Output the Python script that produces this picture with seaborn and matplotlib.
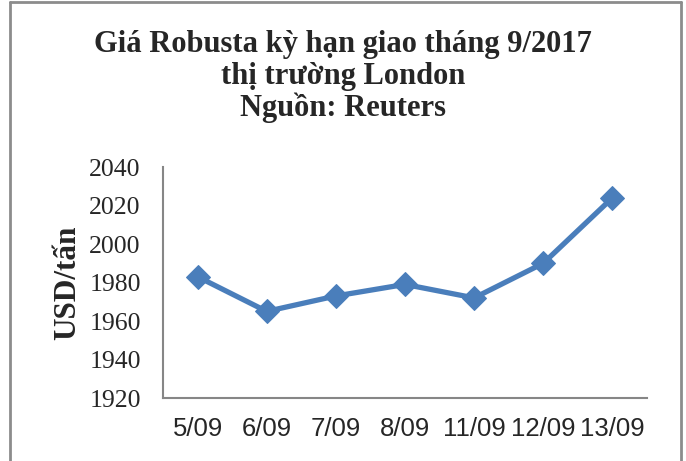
import matplotlib.pyplot as plt
from matplotlib.lines import Line2D
import seaborn as sns
import pandas as pd

# data
dates = ["5/09", "6/09", "7/09", "8/09", "11/09", "12/09", "13/09"]
prices = [1983, 1965, 1973, 1979, 1972, 1990, 2024]
yticks = [1920, 1940, 1960, 1980, 2000, 2020, 2040]

title_lines = ["Giá Robusta kỳ hạn giao tháng 9/2017",
               "thị trường London",
               "Nguồn: Reuters"]

sns.set_style("white")
plt.rcParams['font.family'] = ['Liberation Serif', 'DejaVu Serif']

df = pd.DataFrame({"date": dates, "price": prices})

W, H = 686, 461
fig = plt.figure(figsize=(W / 100, H / 100), dpi=100)
ax = fig.add_axes([163 / W, 1 - 398 / H, (647 - 163) / W, (398 - 167) / H])

sns.lineplot(data=df, x="date", y="price", sort=False, ax=ax,
             color="#4A7EBB", linewidth=3.8, marker="D", markersize=12,
             markeredgecolor="#4A7EBB")

ax.set_xlim(-0.5, len(dates) - 0.5)
ax.set_ylim(1920, 2040)
ax.set_yticks(yticks)
ax.set_xticks(range(len(dates)))
ax.set_xticklabels(dates, fontfamily="Liberation Sans", fontsize=18.5)
ax.set_yticklabels([str(v) for v in yticks], fontsize=18.5)
ax.tick_params(axis="y", length=0, pad=16)
ax.tick_params(axis="x", length=0, pad=14)
ax.set_xlabel("")
ax.set_ylabel("USD/tấn", fontsize=22.5, fontweight="bold", labelpad=5)

for s in ["top", "right"]:
    ax.spines[s].set_visible(False)
for s in ["left", "bottom"]:
    ax.spines[s].set_color("#868686")
    ax.spines[s].set_linewidth(1.5)

for i, line in enumerate(title_lines):
    fig.text(343 / W, 1 - (52 + 32 * i) / H, line, ha="center", va="baseline",
             fontsize=22, fontweight="bold")

# outer frame
fc = "#8c8c8c"
fig.add_artist(Line2D([10 / W, 10 / W], [0, 1 - 2 / H], color=fc, lw=2))
fig.add_artist(Line2D([10 / W, 681 / W], [1 - 2 / H, 1 - 2 / H], color=fc, lw=2))
fig.add_artist(Line2D([681 / W, 681 / W], [0, 1 - 2 / H], color=fc, lw=2))

fig.savefig("out.png", dpi=100)
